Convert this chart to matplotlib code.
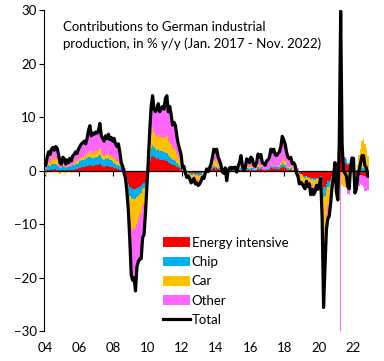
import numpy as np
import matplotlib
matplotlib.use("Agg")
import matplotlib.pyplot as plt

plt.rcParams['font.family'] = ['Lato', 'DejaVu Sans']

# monthly data, Jan 2004 - Nov 2022, contributions in pp
total = [
    1.0, 2.5, 3.5, 3.0, 4.0, 4.3, 3.8, 4.5, 4.2, 3.0, 1.5, 1.2,
    2.5, 2.2, 1.2, 2.0, 1.5, 2.3, 1.8, 2.8, 3.0, 3.5, 3.2, 4.0,
    4.5, 5.0, 5.2, 5.5, 5.0, 6.0, 7.5, 8.4, 6.5, 7.0, 6.8, 7.2,
    7.0, 7.5, 8.8, 6.5, 6.0, 5.5, 6.5, 6.0, 6.8, 5.8, 6.2, 5.5,
    6.0, 5.0, 4.5, 5.0, 3.5, 1.5, 0.8, -0.5, -1.5, -4.0, -7.5, -13.0,
    -19.5, -20.5, -20.0, -22.5, -18.0, -17.0, -16.5, -16.5, -12.5, -12.0, -8.0, -3.0,
    2.0, 7.5, 12.0, 14.0, 11.5, 11.0, 11.5, 12.5, 11.0, 11.5, 12.0, 11.5,
    13.5, 14.0, 11.0, 12.0, 10.5, 8.5, 9.0, 8.5, 6.5, 5.0, 4.0, 3.0,
    0.5, 0.8, -0.5, -1.3, -1.0, -1.5, -2.3, -2.0, -1.5, -2.5, -2.3, -2.8,
    -2.5, -2.0, -1.2, -1.5, -0.5, 0.3, -0.2, 0.5, 1.2, 2.5, 4.0, 3.5,
    4.0, 2.5, 1.9, 1.0, -0.3, -0.5, 0.5, -1.9, 0.0, 0.5, 0.6, 0.3,
    0.6, 0.6, -0.3, 0.8, 1.5, 2.8, 1.0, 0.0, 0.5, 2.2, 2.0, 1.5,
    2.5, 2.2, 1.0, 0.8, 1.5, 3.1, 2.5, 3.0, 1.5, 1.3, 1.0, 1.8,
    2.0, 2.5, 4.0, 3.5, 4.0, 3.0, 2.8, 3.2, 3.5, 4.5, 6.4, 5.8,
    5.0, 3.5, 2.5, 2.2, 2.5, 1.3, 1.5, 1.0, -0.5, -1.0, -2.5, -2.2,
    -2.5, -3.0, -3.4, -2.0, -3.0, -2.5, -4.5, -3.5, -4.5, -4.0, -2.8, -3.5,
    -2.5, -1.5, -9.0, -25.6, -18.0, -11.0, -9.0, -8.5, -6.0, -3.0, -1.0, 1.5,
    -4.0, -5.5, 5.0, 29.8, 5.0, 0.0, -0.5, -1.0, -3.0, -3.4, 1.0, 2.3,
    2.3, -4.2, -3.5, -1.0, 0.0, 1.5, 2.8, 2.8, 1.0, 0.5, -1.0,
]

energy = [
    -0.2, 0.1, 0.2, 0.2, 0.3, 0.2, 0.3, 0.3, 0.2, 0.1, 0.0, 0.1,
    0.2, 0.1, 0.0, 0.1, 0.1, 0.2, 0.1, 0.2, 0.2, 0.3, 0.3, 0.4,
    0.5, 0.6, 0.6, 0.7, 0.6, 0.8, 0.9, 1.0, 0.8, 0.9, 0.9, 1.0,
    1.0, 1.1, 1.3, 0.9, 0.8, 0.7, 0.9, 0.8, 0.9, 0.7, 0.7, 0.6,
    0.5, 0.4, 0.3, 0.3, 0.2, 0.1, -0.2, -0.6, -1.0, -1.8, -2.5, -3.0,
    -3.2, -3.4, -3.4, -3.4, -3.2, -3.0, -3.0, -2.8, -2.5, -2.3, -2.0, -1.0,
    0.8, 1.8, 2.5, 2.8, 2.5, 2.3, 2.2, 2.3, 2.0, 2.0, 2.0, 1.9,
    1.8, 1.7, 1.4, 1.4, 1.2, 1.0, 1.0, 0.9, 0.7, 0.5, 0.4, 0.2,
    -0.1, -0.1, -0.3, -0.4, -0.3, -0.4, -0.5, -0.5, -0.4, -0.6, -0.5, -0.6,
    -0.5, -0.4, -0.2, -0.3, -0.1, 0.0, 0.0, 0.1, 0.2, 0.3, 0.4, 0.3,
    0.4, 0.3, 0.2, 0.1, 0.0, -0.1, 0.1, -0.3, 0.0, 0.1, 0.1, 0.0,
    0.0, 0.0, -0.1, 0.1, 0.1, 0.2, 0.1, 0.0, 0.0, 0.2, 0.2, 0.1,
    0.2, 0.2, 0.1, 0.0, 0.1, 0.3, 0.2, 0.3, 0.1, 0.1, 0.1, 0.2,
    0.2, 0.2, 0.4, 0.3, 0.4, 0.3, 0.3, 0.3, 0.3, 0.5, 0.7, 0.6,
    0.5, 0.3, 0.2, 0.1, 0.2, 0.1, 0.1, 0.0, -0.2, -0.3, -0.5, -0.6,
    -0.8, -1.0, -1.1, -1.0, -1.2, -1.2, -1.4, -1.3, -1.4, -1.4, -1.3, -1.3,
    -1.3, -1.0, -1.5, -3.0, -3.0, -2.5, -2.0, -2.0, -1.5, -1.0, -0.5, 0.2,
    -0.5, -0.8, 1.0, 12.0, 2.5, 2.0, 1.5, 1.2, 1.0, 0.8, 0.8, 0.7,
    0.3, -0.5, -0.8, -0.8, -0.7, -0.8, -0.9, -1.0, -1.0, -1.2, -1.3,
]

chip = [
    0.3, 0.5, 0.8, 0.7, 1.0, 1.0, 0.9, 1.0, 0.9, 0.7, 0.4, 0.3,
    0.6, 0.5, 0.4, 0.6, 0.5, 0.7, 0.6, 0.8, 0.9, 1.0, 1.0, 1.1,
    1.2, 1.3, 1.3, 1.4, 1.3, 1.5, 1.6, 1.6, 1.5, 1.5, 1.5, 1.6,
    1.5, 1.6, 1.7, 1.4, 1.3, 1.2, 1.4, 1.3, 1.4, 1.2, 1.3, 1.2,
    1.0, 0.9, 0.8, 0.8, 0.6, 0.3, 0.1, -0.2, -0.4, -0.8, -1.3, -1.8,
    -2.0, -2.0, -2.0, -1.9, -1.8, -1.6, -1.5, -1.4, -1.0, -0.9, -0.5, -0.2,
    0.5, 1.3, 1.8, 2.0, 1.9, 1.8, 1.7, 1.8, 1.6, 1.6, 1.6, 1.5,
    1.5, 1.5, 1.3, 1.3, 1.2, 1.0, 1.0, 0.9, 0.7, 0.6, 0.5, 0.3,
    0.0, 0.1, -0.1, -0.2, -0.2, -0.3, -0.4, -0.4, -0.3, -0.5, -0.4, -0.5,
    -0.6, -0.5, -0.3, -0.4, -0.2, 0.0, -0.1, 0.1, 0.2, 0.3, 0.4, 0.3,
    0.3, 0.2, 0.2, 0.1, 0.0, 0.0, 0.1, -0.2, 0.0, 0.1, 0.1, 0.0,
    0.1, 0.1, 0.0, 0.1, 0.2, 0.3, 0.1, 0.0, 0.1, 0.2, 0.2, 0.1,
    0.2, 0.2, 0.1, 0.1, 0.1, 0.3, 0.2, 0.3, 0.1, 0.1, 0.1, 0.1,
    0.1, 0.2, 0.4, 0.3, 0.4, 0.3, 0.3, 0.3, 0.4, 0.5, 0.7, 0.6,
    0.5, 0.3, 0.2, 0.2, 0.2, 0.1, 0.1, 0.1, 0.0, 0.0, -0.1, -0.1,
    -0.1, -0.2, -0.2, -0.1, -0.2, -0.2, -0.3, -0.2, -0.3, -0.3, -0.2, -0.3,
    -0.3, -0.2, -0.8, -2.0, -1.8, -1.2, -1.0, -0.9, -0.6, -0.3, -0.1, 0.3,
    0.3, 0.2, 1.0, 10.0, 1.2, 1.0, 0.8, 0.6, 0.4, 0.3, 0.4, 0.3,
    0.3, 0.0, 0.2, 0.3, 0.4, 0.5, 0.5, 0.4, 0.4, 0.3, 0.2,
]

car = [
    -0.6, 0.3, 0.6, 0.5, 1.2, 1.0, 0.8, 1.3, 1.0, 0.3, -0.6, -0.3,
    0.4, 0.2, -0.6, 0.3, -0.3, 0.2, -0.4, 0.3, 0.4, 0.6, 0.4, 0.7,
    0.6, 0.7, 0.7, 0.8, 0.5, 0.8, 0.9, 1.0, 0.8, 0.9, 0.9, 1.0,
    1.1, 1.2, 1.3, 1.0, 0.9, 0.9, 1.0, 0.9, 1.0, 0.8, 0.9, 0.8,
    0.8, 0.7, 0.6, 0.7, 0.5, 0.2, 0.1, -0.2, -0.5, -1.2, -2.5, -4.5,
    -5.5, -5.8, -5.6, -5.5, -5.0, -4.5, -4.0, -4.0, -3.2, -3.0, -2.0, -0.6,
    0.4, 1.5, 2.5, 3.2, 2.8, 2.6, 2.6, 2.8, 2.5, 2.6, 2.7, 2.6,
    3.0, 3.2, 2.6, 2.8, 2.5, 2.0, 2.2, 2.0, 1.6, 1.2, 1.0, 0.8,
    0.1, 0.2, -0.2, -0.4, -0.3, -0.4, -0.7, -0.6, -0.4, -0.7, -0.7, -0.9,
    -0.7, -0.5, -0.3, -0.4, -0.1, 0.1, -0.1, 0.1, 0.3, 0.8, 1.2, 1.0,
    1.2, 0.7, 0.5, 0.3, -0.3, -0.4, 0.2, -1.0, -0.2, 0.1, 0.2, 0.1,
    0.2, 0.2, -0.4, 0.2, 0.4, 0.8, 0.3, -0.3, 0.1, 0.6, 0.5, 0.4,
    0.5, 0.4, -0.2, -0.3, 0.2, 0.6, 0.4, 0.5, -0.2, -0.3, -0.4, 0.2,
    -0.3, -0.2, 0.3, 0.2, 0.3, -0.2, -0.3, 0.2, 0.3, 0.5, 1.2, 1.0,
    0.8, 0.5, 0.3, 0.3, 0.4, 0.2, 0.2, -0.3, -1.0, -1.2, -1.5, -1.3,
    -1.2, -1.0, -1.2, -0.6, -0.8, -0.6, -1.5, -1.0, -1.5, -1.2, -0.6, -1.0,
    -0.5, -0.2, -3.5, -10.0, -8.0, -4.5, -3.5, -3.5, -2.5, -1.0, -0.3, 0.5,
    -1.5, -2.0, 1.5, 38.0, -2.7, -3.0, -3.0, -3.2, -3.5, -3.2, -1.5, -0.5,
    1.0, -1.5, -1.0, 1.0, 2.5, 3.5, 5.0, 5.5, 4.5, 4.0, 2.5,
]

other = [
    1.5, 1.6, 1.9, 1.6, 1.5, 2.1, 1.8, 1.9, 2.1, 1.9, 1.7, 1.1,
    1.3, 1.4, 1.4, 1.0, 1.2, 1.2, 1.5, 1.5, 1.5, 1.6, 1.5, 1.8,
    2.2, 2.4, 2.6, 2.6, 2.6, 2.9, 4.1, 4.8, 3.4, 3.7, 3.5, 3.6,
    3.4, 3.6, 4.5, 3.2, 3.0, 2.7, 3.2, 3.0, 3.5, 3.1, 3.3, 2.9,
    3.7, 3.0, 2.8, 3.2, 2.2, 0.9, 0.8, 0.5, 0.4, -0.2, -1.2, -3.7,
    -8.8, -9.3, -9.0, -11.7, -8.0, -7.9, -8.0, -8.3, -5.8, -5.8, -3.5, -1.2,
    0.3, 2.9, 5.2, 6.0, 4.3, 4.3, 5.0, 5.6, 4.9, 5.3, 5.7, 5.5,
    7.2, 7.6, 5.7, 6.5, 5.6, 4.5, 4.8, 4.7, 3.5, 2.7, 2.1, 1.7,
    0.5, 0.6, 0.1, -0.3, -0.2, -0.4, -0.7, -0.5, -0.4, -0.7, -0.7, -0.8,
    -0.7, -0.6, -0.4, -0.4, -0.1, 0.2, 0.0, 0.2, 0.5, 1.1, 2.0, 1.9,
    2.1, 1.3, 1.0, 0.5, 0.0, 0.0, 0.1, -0.4, 0.2, 0.2, 0.2, 0.2,
    0.3, 0.3, 0.2, 0.4, 0.8, 1.5, 0.5, 0.3, 0.3, 1.2, 1.1, 0.9,
    1.6, 1.4, 1.0, 1.0, 1.1, 1.9, 1.7, 1.9, 1.5, 1.4, 1.2, 1.3,
    2.0, 2.3, 2.9, 2.7, 2.9, 2.6, 2.5, 2.4, 2.5, 3.0, 3.8, 3.6,
    3.2, 2.4, 1.8, 1.6, 1.7, 0.9, 1.1, 1.2, 0.7, 0.5, -0.4, -0.2,
    -0.4, -0.8, -0.9, -0.3, -0.8, -0.5, -1.3, -1.0, -1.3, -1.1, -0.7, -0.9,
    -0.4, -0.1, -3.2, -10.6, -5.2, -2.8, -2.5, -2.1, -1.4, -0.7, -0.1, 0.5,
    -2.3, -2.9, 1.5, -30.2, 4.0, 0.0, 0.2, 0.4, -0.9, -1.3, 1.3, 1.8,
    0.7, -2.2, -1.9, -1.5, -2.2, -1.7, -1.8, -2.1, -2.9, -2.6, -2.4,
]

names = ['Energy intensive', 'Chip', 'Car', 'Other']
colors = ['#FF0000', '#00B0F0', '#FFC000', '#FF66FF']
tick_years = list(range(2004, 2023, 2))
tick_labels = ['%02d' % (y % 100) for y in tick_years]

months = np.arange(len(total))
x = 2004 + months / 12

fig = plt.figure(figsize=(3.84, 3.61), dpi=100)
ax = fig.add_axes([0.115, 0.083, 0.846, 0.889])

pos_base = np.zeros(len(total))
neg_base = np.zeros(len(total))
handles = []
for vals, name, col in zip([energy, chip, car, other], names, colors):
    v = np.array(vals)
    base = np.where(v >= 0, pos_base, neg_base)
    h = ax.bar(x, v, width=1 / 12 * 1.05, bottom=base, align='edge', color=col,
               linewidth=0, label=name, zorder=2)
    handles.append(h)
    pos_base = pos_base + np.clip(v, 0, None)
    neg_base = neg_base + np.clip(v, None, 0)

line, = ax.plot(x + 1 / 24, total, color='black', lw=2.3, label='Total', zorder=4,
                solid_joinstyle='round')
handles.append(line)
ax.axhline(0, color='black', lw=0.9, zorder=3)

ax.set_ylim(-30, 30)
ax.set_xlim(2003.95, 2022.95)
ax.set_yticks([-30, -20, -10, 0, 10, 20, 30])
ax.set_xticks(tick_years)
ax.set_xticklabels(tick_labels)
ax.tick_params(axis='x', length=0, pad=8, labelsize=9.5)
ax.tick_params(axis='y', length=3.5, width=0.8, labelsize=9.5, pad=2)
for s in ['top', 'right', 'bottom']:
    ax.spines[s].set_visible(False)
ax.spines['left'].set_linewidth(0.8)

sec = ax.secondary_xaxis(0.5)
sec.set_alignment('bottom')
sec.set_xticks(tick_years)
sec.set_xticklabels([])
sec.tick_params(axis='x', length=3.5, width=0.8, direction='out')
sec.spines['bottom'].set_visible(False)

ax.text(0.058, 0.965,
        'Contributions to German industrial\nproduction, in % y/y (Jan. 2017 - Nov. 2022)',
        transform=ax.transAxes, ha='left', va='top', fontsize=9.5, linespacing=1.4)

leg = ax.legend(handles=handles, loc='upper left', bbox_to_anchor=(0.35, 0.31),
                frameon=False, fontsize=9.5, handlelength=2.0, handleheight=0.75,
                handletextpad=0.15, labelspacing=0.55, borderaxespad=0)

fig.savefig('out.png', dpi=100)
